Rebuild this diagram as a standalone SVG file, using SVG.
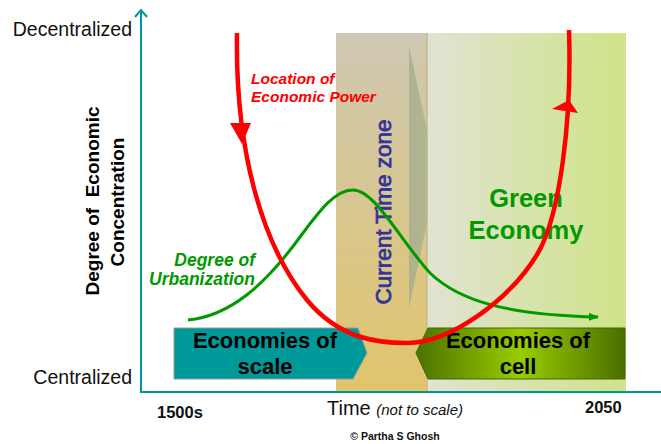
<svg xmlns="http://www.w3.org/2000/svg" width="661" height="444" viewBox="0 0 661 444">
  <style>
    text { font-family: "Liberation Sans", Arial, sans-serif; }
    .b { font-weight: bold; }
    .box { font-weight: bold; font-size: 22px; fill: #000; text-anchor: middle; }
    .axislbl { font-size: 19.5px; fill: #111; text-anchor: end; }
    .red { fill: #ff0000; font-weight: bold; font-style: italic; font-size: 15.5px; }
    .grn { fill: #009900; font-weight: bold; font-style: italic; font-size: 17.5px; text-anchor: end; }
  </style>
  <defs>
    <linearGradient id="zoneG" x1="0" y1="0" x2="0" y2="1">
      <stop offset="0" stop-color="#cfc8b2"/>
      <stop offset="1" stop-color="#e1c56c"/>
    </linearGradient>
    <linearGradient id="greenBand" x1="0" y1="0" x2="1" y2="0">
      <stop offset="0" stop-color="#e0e3d2"/>
      <stop offset="1" stop-color="#cfe388"/>
    </linearGradient>
    <linearGradient id="triG" x1="0" y1="0" x2="1" y2="0">
      <stop offset="0" stop-color="#a9ae90"/>
      <stop offset="0.63" stop-color="#a9b48e"/>
      <stop offset="0.66" stop-color="#b7dde4"/>
      <stop offset="1" stop-color="#c2e3ea"/>
    </linearGradient>
    <linearGradient id="cellG" x1="0" y1="0" x2="1" y2="0">
      <stop offset="0" stop-color="#4b7200"/>
      <stop offset="0.5" stop-color="#99cc00"/>
      <stop offset="1" stop-color="#4b6e00"/>
    </linearGradient>
    <marker id="gArrow" markerWidth="10" markerHeight="8" refX="9" refY="4" orient="auto" markerUnits="userSpaceOnUse">
      <path d="M0,0 L10,4 L0,8 Z" fill="#009900"/>
    </marker>
  </defs>

  <rect width="661" height="444" fill="#ffffff"/>

  <g id="current-time-zone">
    <rect x="336" y="33" width="91" height="358" fill="url(#zoneG)"/>
    <polygon points="409,46 437,176 409,308" fill="url(#triG)" opacity="0.85"/>
    <line x1="427" y1="33" x2="427" y2="391" stroke="#c4b484" stroke-width="1.5"/>
    <text transform="translate(391,212) rotate(-90)" font-size="22.5" fill="#333399" stroke="#333399" stroke-width="0.8" text-anchor="middle">Current Time zone</text>
  </g>

  <g id="green-economy">
    <rect x="428" y="33" width="198" height="358" fill="url(#greenBand)"/>
    <text class="b" x="526" y="207" font-size="25.5" fill="#009900" text-anchor="middle">Green</text>
    <text class="b" x="526" y="239" font-size="25.5" fill="#009900" text-anchor="middle">Economy</text>
  </g>

  <g id="axes" stroke="#009999" stroke-width="2" fill="none">
    <line x1="141" y1="10" x2="141" y2="392"/>
    <line x1="140" y1="392" x2="661" y2="392"/>
    <polyline points="135,17 141,10 147,17"/>
  </g>

  <g id="economies-of-scale">
    <polygon points="174,328 358,328 367,353 353,379 174,379" fill="#009999" stroke="#9a9a9a" stroke-width="1"/>
    <text class="box" x="265" y="348">Economies of</text>
    <text class="box" x="265" y="374">scale</text>
  </g>

  <g id="economies-of-cell">
    <polygon points="428,328 625,328 625,379 428,379 416,353" fill="url(#cellG)" stroke="#3f6a00" stroke-width="1"/>
    <text class="box" x="518" y="348">Economies of</text>
    <text class="box" x="518" y="374">cell</text>
  </g>

  <g id="connectors" fill="none">
    <path id="urbanization-curve" d="M188,320 C230,316 265,285 300,237 C320,210 335,190 353,190 C375,190 400,240 430,273 C460,302 510,315 598,317" stroke="#009900" stroke-width="3" marker-end="url(#gArrow)"/>
    <path id="power-curve" d="M237,33 C235,150 262,245 307,300 C340,340 380,343 407,343 C450,343 510,300 538,253 C560,215 572,120 569,30" stroke="#ff0000" stroke-width="4.5"/>
    <polygon points="230,123 251,123 242,144" fill="#ff0000"/>
    <polygon points="552,109 569,100 578,113" fill="#ff0000"/>
  </g>

  <g id="labels">
    <text class="axislbl" x="132" y="36">Decentralized</text>
    <text class="axislbl" x="132" y="384">Centralized</text>
    <text class="b" transform="translate(99,201) rotate(-90)" font-size="19" fill="#000" text-anchor="middle" style="white-space:pre">Degree of  Economic</text>
    <text class="b" transform="translate(124,202) rotate(-90)" font-size="19" fill="#000" text-anchor="middle">Concentration</text>
    <text class="red" x="251" y="84">Location of</text>
    <text class="red" x="251" y="102">Economic Power</text>
    <text class="grn" x="255" y="266">Degree of</text>
    <text class="grn" x="255" y="285">Urbanization</text>
    <text class="b" x="157" y="418" font-size="16.5" fill="#111">1500s</text>
    <text x="327" y="415" font-size="20" fill="#111">Time <tspan font-size="15" font-style="italic">(not to scale)</tspan></text>
    <text class="b" x="585" y="413" font-size="16.5" fill="#111">2050</text>
    <text class="b" x="395" y="440" font-size="10.5" fill="#111" text-anchor="middle">© Partha S Ghosh</text>
  </g>
</svg>
